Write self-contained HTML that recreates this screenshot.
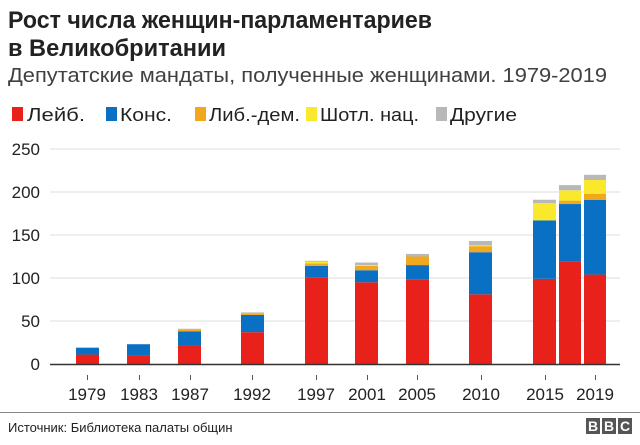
<!DOCTYPE html>
<html><head><meta charset="utf-8"><style>
body{margin:0;background:#fff;width:640px;height:440px;overflow:hidden;font-family:"Liberation Sans",Arial,sans-serif}
svg text{font-family:"Liberation Sans",Arial,sans-serif}
</style></head><body>
<svg id="s" width="640" height="440" xmlns="http://www.w3.org/2000/svg">
<text x="8" y="28" font-size="24" font-weight="bold" fill="#222" textLength="424" lengthAdjust="spacingAndGlyphs">Рост числа женщин-парламентариев</text>
<text x="8" y="56" font-size="24" font-weight="bold" fill="#222" textLength="218" lengthAdjust="spacingAndGlyphs">в Великобритании</text>
<text x="8" y="82" font-size="20" fill="#404040" textLength="599" lengthAdjust="spacingAndGlyphs">Депутатские мандаты, полученные женщинами. 1979-2019</text>
<g font-size="18" fill="#222">
<rect x="12" y="107" width="11" height="14" fill="#e8221a"/><text x="27" y="121" textLength="58" lengthAdjust="spacingAndGlyphs">Лейб.</text>
<rect x="106" y="107" width="11" height="14" fill="#0a70c4"/><text x="120" y="121" textLength="52" lengthAdjust="spacingAndGlyphs">Конс.</text>
<rect x="195" y="107" width="11" height="14" fill="#f2a81d"/><text x="209" y="121" textLength="91" lengthAdjust="spacingAndGlyphs">Либ.-дем.</text>
<rect x="306" y="107" width="11" height="14" fill="#f9e82c"/><text x="320" y="121" textLength="99" lengthAdjust="spacingAndGlyphs">Шотл. нац.</text>
<rect x="436" y="107" width="11" height="14" fill="#b8b8b8"/><text x="450" y="121" textLength="67" lengthAdjust="spacingAndGlyphs">Другие</text>
</g>
<g stroke="#dcdcdc" stroke-width="1">
<line x1="50" x2="620" y1="149" y2="149"/><line x1="50" x2="620" y1="192" y2="192"/>
<line x1="50" x2="620" y1="235" y2="235"/><line x1="50" x2="620" y1="278" y2="278"/>
<line x1="50" x2="620" y1="321" y2="321"/>
</g>
<g font-size="17" fill="#222" text-anchor="end">
<text x="40" y="155">250</text><text x="40" y="198">200</text><text x="40" y="241">150</text>
<text x="40" y="284">100</text><text x="40" y="327">50</text><text x="40" y="370">0</text>
</g>
<g id="bars"></g>
<line x1="50" x2="620" y1="364.5" y2="364.5" stroke="#333" stroke-width="1.5"/>
<g id="ticks" font-size="17" fill="#222" text-anchor="middle"></g>
<line x1="0" x2="640" y1="412.5" y2="412.5" stroke="#888" stroke-width="1"/>
<text x="8" y="432" font-size="13" fill="#222">Источник: Библиотека палаты общин</text>
<g font-size="14" font-weight="bold" fill="#fff" text-anchor="middle">
<rect x="586" y="418" width="14" height="16" fill="#555"/><text x="593" y="431">B</text>
<rect x="602" y="418" width="14" height="16" fill="#555"/><text x="609" y="431">B</text>
<rect x="618" y="418" width="14" height="16" fill="#555"/><text x="625" y="431">C</text>
</g>
</svg>
<script>
var cols=["#e8221a","#0a70c4","#f2a81d","#f9e82c","#b8b8b8"];
var data=[
["1979",76,87,[11,8,0,0,0]],
["1983",127,139,[10,13,0,0,0]],
["1987",178,190,[21,17,2,0,1]],
["1992",241,252,[37,20,2,0,1]],
["1997",305,316,[101,13,3,2,1]],
["2001",355,367,[95,14,5,1,3]],
["2005",406,417,[98,17,10,0,3]],
["2010",469,481,[81,49,7,1,5]],
["2015",533,545,[99,68,0,20,4]],
["2017",559,0,[119,67,4,12,6]],
["2019",584,595,[104,87,7,16,6]]
];
var ns="http://www.w3.org/2000/svg",b=document.getElementById("bars"),t=document.getElementById("ticks");
data.forEach(function(d){
 var y=364,w=(d[0]=="2017"||d[0]=="2019")?22:23;
 d[3].forEach(function(v,i){ if(!v)return; var h=v*0.86; y-=h;
  var r=document.createElementNS(ns,"rect");r.setAttribute("x",d[1]);r.setAttribute("y",y);r.setAttribute("width",w);r.setAttribute("height",h);r.setAttribute("fill",cols[i]);b.appendChild(r);});
 if(d[2]){var l=document.createElementNS(ns,"line");l.setAttribute("x1",d[2]+.5);l.setAttribute("x2",d[2]+.5);l.setAttribute("y1",375);l.setAttribute("y2",380);l.setAttribute("stroke","#555");t.appendChild(l);
 var tx=document.createElementNS(ns,"text");tx.setAttribute("x",d[2]);tx.setAttribute("y",400);tx.textContent=d[0];t.appendChild(tx);}
});
</script>
</body></html>
